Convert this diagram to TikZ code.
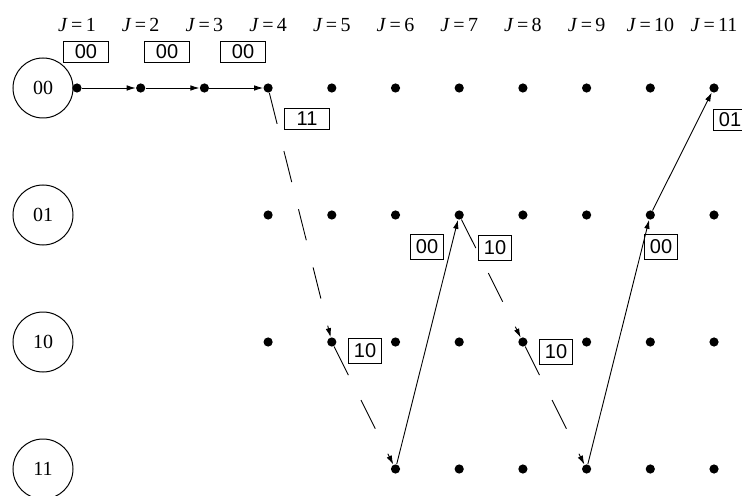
\documentclass[tikz,border=0pt]{standalone}
\usepackage{fontspec}
\setmainfont{Liberation Serif}
\setsansfont{Liberation Sans}
\usetikzlibrary{arrows.meta}
\tikzset{
  tdot/.style   ={circle, fill=black, inner sep=0pt, minimum size=4.6pt},
  tstate/.style ={circle, draw=black, line width=0.5pt, minimum size=30pt,
                  inner sep=0pt, font=\fontsize{10}{12}\selectfont},
  tlabel/.style ={font=\fontsize{10}{12}\selectfont},
  tbit/.style   ={draw=black, line width=0.6pt, inner sep=0pt,
                  minimum width=16.5pt, minimum height=12.5pt,
                  font=\sffamily\fontsize{10}{12}\selectfont},
  tbitwide/.style={tbit, minimum width=22.5pt, minimum height=10.5pt},
  tgo/.style    ={-{Latex[length=4.5pt,width=2.8pt]}, line width=0.45pt},
  tmiss/.style  ={tgo, dash pattern=on 16pt off 14pt},
}

\begin{document}
\begin{tikzpicture}[x=0.5pt, y=-0.5pt]
  \useasboundingbox (0,0) rectangle (742,496);

  % states on the left
  \foreach \s/\y in {00/88, 01/215, 10/342, 11/469}
    \node[tstate] (st\s) at (43,\y) {\s};

  % time steps and trellis points
  \foreach \j in {1,...,11} {
    \pgfmathsetmacro{\xj}{77+63.7*(\j-1)}
    \node[tlabel] (J\j) at (\xj,25) {\textit{J}\,=\,\j};
    \node[tdot] (d00-\j) at (\xj,88) {};
  }
  \foreach \j in {4,...,11} {
    \pgfmathsetmacro{\xj}{77+63.7*(\j-1)}
    \node[tdot] (d01-\j) at (\xj,215) {};
    \node[tdot] (d10-\j) at (\xj,342) {};
  }
  \foreach \j in {6,...,11} {
    \pgfmathsetmacro{\xj}{77+63.7*(\j-1)}
    \node[tdot] (d11-\j) at (\xj,469) {};
  }

  % the path, dashed where a branch is missed
  \draw[tgo]   (d00-1)  -- (d00-2);
  \draw[tgo]   (d00-2)  -- (d00-3);
  \draw[tgo]   (d00-3)  -- (d00-4);
  \draw[tmiss] (d00-4)  -- (d10-5);
  \draw[tmiss] (d10-5)  -- (d11-6);
  \draw[tgo]   (d11-6)  -- (d01-7);
  \draw[tmiss] (d01-7)  -- (d10-8);
  \draw[tmiss] (d10-8)  -- (d11-9);
  \draw[tgo]   (d11-9)  -- (d01-10);
  \draw[tgo]   (d01-10) -- (d00-11);

  % output bits on the branches
  \node[tbitwide] (b1)  at (86,52)   {00};
  \node[tbitwide] (b2)  at (167,52)  {00};
  \node[tbitwide] (b3)  at (243,52)  {00};
  \node[tbitwide] (b4)  at (307,119) {11};
  \node[tbit]     (b5)  at (365,351) {10};
  \node[tbit]     (b6)  at (427,247) {00};
  \node[tbit]     (b7)  at (495,248) {10};
  \node[tbit]     (b8)  at (556,352) {10};
  \node[tbit]     (b9)  at (661,247) {00};
  \node[tbit, minimum height=10.5pt] (b10) at (730,120) {01};
\end{tikzpicture}
\end{document}
